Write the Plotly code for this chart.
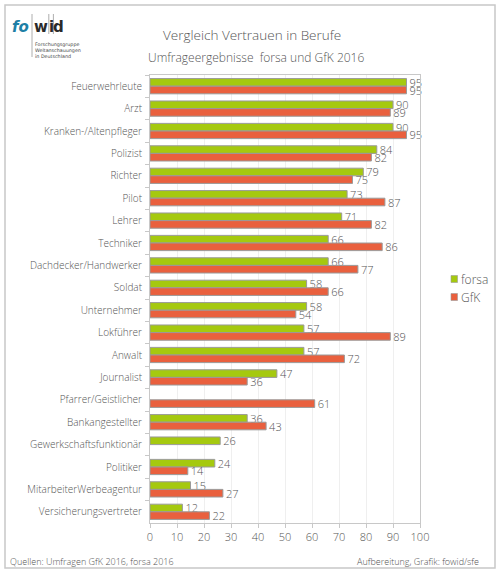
import plotly.graph_objects as go

categories = ["Feuerwehrleute", "Arzt", "Kranken-/Altenpfleger", "Polizist", "Richter", "Pilot",
              "Lehrer", "Techniker", "Dachdecker/Handwerker", "Soldat", "Unternehmer", "Lokführer",
              "Anwalt", "Journalist", "Pfarrer/Geistlicher", "Bankangestellter",
              "Gewerkschaftsfunktionär", "Politiker", "MitarbeiterWerbeagentur", "Versicherungsvertreter"]
forsa = [95, 90, 90, 84, 79, 73, 71, 66, 66, 58, 58, 57, 57, 47, None, 36, 26, 24, 15, 12]
gfk = [95, 89, 95, 82, 75, 87, 82, 86, 77, 66, 54, 89, 72, 36, 61, 43, None, 14, 27, 22]
x_ticks = [0, 10, 20, 30, 40, 50, 60, 70, 80, 90, 100]
series_names = ["forsa", "GfK"]

GREEN = "#a5c90f"
RED = "#e9603e"
TXT = "#555555"
FONT = "Open Sans"
LIGHT = 300

fig = go.Figure()
for name, vals, col in [(series_names[0], forsa, GREEN), (series_names[1], gfk, RED)]:
    fig.add_trace(go.Bar(
        y=categories, x=vals, name=name, orientation="h",
        marker=dict(color=col, line=dict(color="#9a9a9a", width=1)),
        text=[("" if v is None else str(v)) for v in vals],
        textposition="outside", cliponaxis=False, constraintext="none",
        textfont=dict(family=FONT, size=11, color=TXT, weight=LIGHT),
        showlegend=False,
    ))

W, H = 500, 572
L, R, T, B = 150, 80, 75, 49
pw, ph = W - L - R, H - T - B


def px(x):
    return (x - L) / pw


def py(y):
    return (H - B - y) / ph


fig.update_layout(
    width=W, height=H,
    margin=dict(l=L, r=R, t=T, b=B, autoexpand=False),
    barmode="group", bargap=0.32, bargroupgap=0.0,
    paper_bgcolor="white", plot_bgcolor="white",
    font=dict(family=FONT, size=11, color=TXT),
    showlegend=False,
    xaxis=dict(range=[0, 100], tickvals=x_ticks, showgrid=True, gridcolor="#efefef",
               showline=True, linecolor="#c8c8c8", mirror=True, ticks="outside",
               ticklen=4, tickcolor="#c8c8c8", zeroline=False, automargin=False,
               tickfont=dict(family=FONT, size=11, color=TXT, weight=LIGHT)),
    yaxis=dict(autorange="reversed", showline=True, linecolor="#c8c8c8", mirror=True,
               ticks="outside", tickson="boundaries", ticklen=4, tickcolor="#c8c8c8",
               automargin=False, ticklabelstandoff=5,
               tickfont=dict(family=FONT, size=10, color=TXT, weight=LIGHT), showgrid=False),
)

ann = [
    dict(text="Vergleich Vertrauen in Berufe", x=px(252), y=py(35), size=13.5),
    dict(text="Umfrageergebnisse  forsa und GfK 2016", x=px(256), y=py(58), size=12),
]
for a in ann:
    fig.add_annotation(text=a["text"], x=a["x"], y=a["y"], xref="paper", yref="paper",
                       showarrow=False, xanchor="center", yanchor="middle",
                       font=dict(family=FONT, size=a["size"], color=TXT, weight=LIGHT))

fig.add_annotation(text="Quellen: Umfragen GfK 2016, forsa 2016", x=px(8), y=py(561),
                   xref="paper", yref="paper", showarrow=False, xanchor="left", yanchor="middle",
                   font=dict(family=FONT, size=9, color=TXT, weight=LIGHT))
fig.add_annotation(text="Aufbereitung, Grafik: fowid/sfe", x=px(481), y=py(561),
                   xref="paper", yref="paper", showarrow=False, xanchor="right", yanchor="middle",
                   font=dict(family=FONT, size=9, color=TXT, weight=LIGHT))

# manual legend
for i, (name, col) in enumerate([(series_names[0], GREEN), (series_names[1], RED)]):
    yc = 279 + i * 18
    fig.add_shape(type="rect", xref="paper", yref="paper", x0=px(451), x1=px(457.5),
                  y0=py(yc + 3.5), y1=py(yc - 3.5), fillcolor=col,
                  line=dict(color="#9a9a9a", width=0.6))
    fig.add_annotation(text=name, x=px(458.5), y=py(yc), xref="paper", yref="paper",
                       showarrow=False, xanchor="left", yanchor="middle",
                       font=dict(family=FONT, size=12, color=TXT, weight=LIGHT))

# logo
fig.add_annotation(text="<b><i>fo</i></b>", x=px(31), y=py(27), xref="paper", yref="paper",
                   showarrow=False, xanchor="right", yanchor="middle",
                   font=dict(family="DejaVu Sans", size=15, color="#1e7fa6"))
for letter, lx in [("w", 40.5), ("i", 51), ("d", 58.5)]:
    fig.add_annotation(text="<b>" + letter + "</b>", x=px(lx), y=py(27), xref="paper",
                       yref="paper", showarrow=False, xanchor="center", yanchor="middle",
                       font=dict(family="DejaVu Sans", size=15, color="#2a2a2a"))
fig.add_annotation(text="Forschungsgruppe<br>Weltanschauungen<br>in Deutschland",
                   x=px(32.5), y=py(40), xref="paper", yref="paper", showarrow=False,
                   xanchor="left", yanchor="top", align="left",
                   font=dict(family="DejaVu Sans", size=4.8, color="#444444"))
for lx, y0, y1 in [(32, 14, 57), (48.8, 14, 34), (53.4, 14, 34)]:
    fig.add_shape(type="line", xref="paper", yref="paper", x0=px(lx), x1=px(lx),
                  y0=py(y0), y1=py(y1), line=dict(color="#999999", width=0.8))

# outer frame
fig.add_shape(type="rect", xref="paper", yref="paper", x0=px(5), x1=px(495),
              y0=py(568), y1=py(5), line=dict(color="#c8c8c8", width=1.5),
              fillcolor="rgba(0,0,0,0)", layer="below")

fig.write_html("out.html", config={"displayModeBar": False},
               post_script="document.body.style.margin='0';document.body.style.overflow='hidden';")
